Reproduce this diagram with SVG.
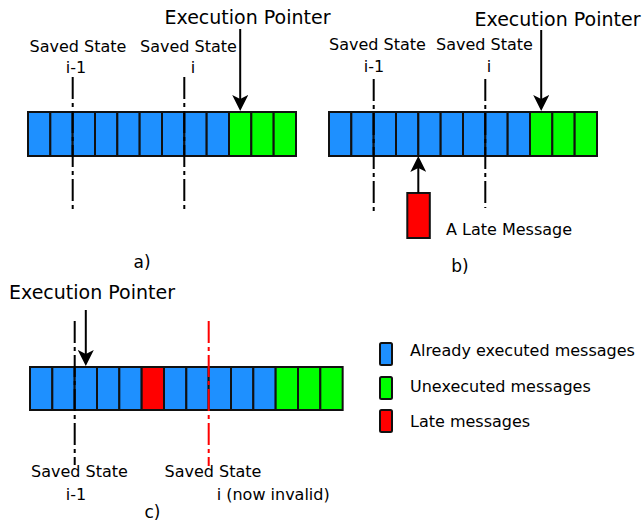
<svg xmlns="http://www.w3.org/2000/svg" width="644" height="523" viewBox="0 0 644 523">
<style>
text{font-family:"DejaVu Sans","Liberation Sans",sans-serif;fill:#000}
.t19{font-size:19px}
.t16{font-size:16px}
.t17{font-size:17px}
.m{text-anchor:middle}
.b{fill:#1e90ff;stroke:#111;stroke-width:2}
.g{fill:#00ff00;stroke:#111;stroke-width:2}
.r{fill:#ff0000;stroke:#111;stroke-width:2}
.dd{stroke:#000;stroke-width:2;fill:none;stroke-dasharray:22,4,4,4}
.ddr{stroke:#ff0000;stroke-width:2;fill:none;stroke-dasharray:22,4,4,4}
.ar{stroke:#000;stroke-width:2;fill:none;marker-end:url(#ah)}
</style>
<defs>
<marker id="ah" viewBox="0 0 16 16" refX="6" refY="8" markerWidth="16" markerHeight="16" markerUnits="userSpaceOnUse" orient="auto">
<path d="M0,0 L16,8 L0,16 L4,8 Z" fill="#000"/>
</marker>
</defs>

<g id="barA">
<rect class="b" x="28" y="112" width="22.33" height="44"/>
<rect class="b" x="50.33" y="112" width="22.33" height="44"/>
<rect class="b" x="72.67" y="112" width="22.33" height="44"/>
<rect class="b" x="95" y="112" width="22.33" height="44"/>
<rect class="b" x="117.33" y="112" width="22.33" height="44"/>
<rect class="b" x="139.67" y="112" width="22.33" height="44"/>
<rect class="b" x="162" y="112" width="22.33" height="44"/>
<rect class="b" x="184.33" y="112" width="22.33" height="44"/>
<rect class="b" x="206.67" y="112" width="22.33" height="44"/>
<rect class="g" x="229" y="112" width="22.33" height="44"/>
<rect class="g" x="251.33" y="112" width="22.33" height="44"/>
<rect class="g" x="273.67" y="112" width="22.33" height="44"/>
</g>

<g id="barB">
<rect class="b" x="329" y="112" width="22.33" height="44"/>
<rect class="b" x="351.33" y="112" width="22.33" height="44"/>
<rect class="b" x="373.67" y="112" width="22.33" height="44"/>
<rect class="b" x="396" y="112" width="22.33" height="44"/>
<rect class="b" x="418.33" y="112" width="22.33" height="44"/>
<rect class="b" x="440.67" y="112" width="22.33" height="44"/>
<rect class="b" x="463" y="112" width="22.33" height="44"/>
<rect class="b" x="485.33" y="112" width="22.33" height="44"/>
<rect class="b" x="507.67" y="112" width="22.33" height="44"/>
<rect class="g" x="530" y="112" width="22.33" height="44"/>
<rect class="g" x="552.33" y="112" width="22.33" height="44"/>
<rect class="g" x="574.67" y="112" width="22.33" height="44"/>
</g>

<g id="lateMsgB">
<rect class="r" x="407.3" y="193" width="22.5" height="45"/>
</g>

<g id="barC">
<rect class="b" x="30" y="367" width="22.33" height="43"/>
<rect class="b" x="52.33" y="367" width="22.33" height="43"/>
<rect class="b" x="74.67" y="367" width="22.33" height="43"/>
<rect class="b" x="97" y="367" width="22.33" height="43"/>
<rect class="b" x="119.33" y="367" width="22.33" height="43"/>
<rect class="r" x="141.67" y="367" width="22.33" height="43"/>
<rect class="b" x="164" y="367" width="22.33" height="43"/>
<rect class="b" x="186.33" y="367" width="22.33" height="43"/>
<rect class="b" x="208.67" y="367" width="22.33" height="43"/>
<rect class="b" x="231" y="367" width="22.33" height="43"/>
<rect class="b" x="253.33" y="367" width="22.33" height="43"/>
<rect class="g" x="275.67" y="367" width="22.33" height="43"/>
<rect class="g" x="298" y="367" width="22.33" height="43"/>
<rect class="g" x="320.33" y="367" width="22.33" height="43"/>
</g>

<g id="connectors">
<path class="dd" d="M72.7,77 V212"/>
<path class="dd" d="M184.3,77 V212"/>
<path class="dd" d="M373.7,79 V212"/>
<path class="dd" d="M485.3,79 V208"/>
<path class="dd" d="M74.7,321 V465"/>
<path class="ddr" d="M208.7,321 V466"/>
<path class="ar" d="M240.2,29 V101"/>
<path class="ar" d="M541.2,30 V101"/>
<path class="ar" d="M85.8,310 V356"/>
<path class="ar" d="M418.3,193 V166"/>
</g>

<g id="labelsA">
<text class="t19 m" x="247.5" y="24">Execution Pointer</text>
<text class="t16 m" x="78" y="52">Saved State</text>
<text class="t16 m" x="76" y="73">i-1</text>
<text class="t16 m" x="188.5" y="52">Saved State</text>
<text class="t16 m" x="193" y="73">i</text>
<text class="t17 m" x="142" y="268">a)</text>
</g>

<g id="labelsB">
<text class="t19 m" x="557.5" y="26">Execution Pointer</text>
<text class="t16 m" x="377.5" y="50">Saved State</text>
<text class="t16 m" x="374" y="72">i-1</text>
<text class="t16 m" x="484.5" y="50">Saved State</text>
<text class="t16 m" x="489" y="72">i</text>
<text class="t16" x="446" y="235">A Late Message</text>
<text class="t17 m" x="460" y="272">b)</text>
</g>

<g id="labelsC">
<text class="t19 m" x="92" y="299">Execution Pointer</text>
<text class="t16 m" x="79.5" y="477">Saved State</text>
<text class="t16 m" x="76" y="500">i-1</text>
<text class="t16 m" x="213" y="477">Saved State</text>
<text class="t16" x="216.7" y="500">i (now invalid)</text>
<text class="t17 m" x="152.5" y="518">c)</text>
</g>

<g id="legendExecuted">
<rect class="b" x="380" y="343" width="12" height="22" rx="1.5"/>
<text class="t16" x="410" y="356">Already executed messages</text>
</g>
<g id="legendUnexecuted">
<rect class="g" x="380" y="377" width="12" height="22" rx="1.5"/>
<text class="t16" x="410" y="391.5">Unexecuted messages</text>
</g>
<g id="legendLate">
<rect class="r" x="380" y="410" width="12" height="22" rx="1.5"/>
<text class="t16" x="410" y="426.5">Late messages</text>
</g>
</svg>
